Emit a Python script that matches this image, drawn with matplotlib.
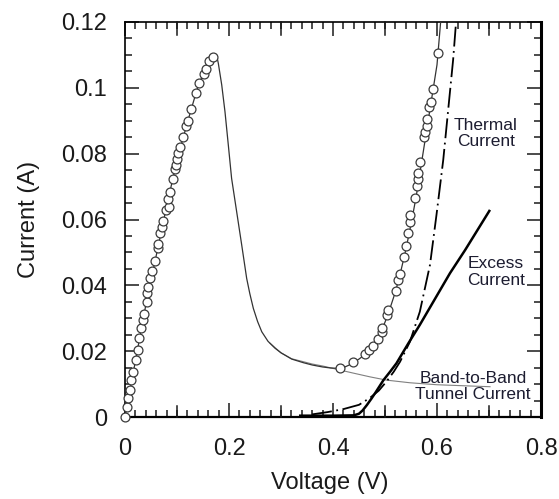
import matplotlib
matplotlib.use("Agg")
import matplotlib.pyplot as plt
from matplotlib.ticker import MultipleLocator

plt.rcParams['font.family'] = ['Liberation Sans', 'DejaVu Sans']

# Measured data (circles)
meas_v = [0.0, 0.0038, 0.0064, 0.0096, 0.0115, 0.016, 0.0205, 0.0244, 0.0269, 0.0308,
          0.0353, 0.0372, 0.0417, 0.0417, 0.0448, 0.0487, 0.0525, 0.0577, 0.0628, 0.064,
          0.0673, 0.0705, 0.0737, 0.0782, 0.0853, 0.0833, 0.0872, 0.0923, 0.0962, 0.0974,
          0.100, 0.1026, 0.106, 0.112, 0.117, 0.1205, 0.127, 0.136, 0.143, 0.151, 0.155,
          0.1615, 0.170,
          0.4135, 0.439, 0.4615, 0.470, 0.476, 0.487, 0.4936, 0.495, 0.503, 0.5065, 0.521,
          0.5256, 0.529, 0.5365, 0.540, 0.545, 0.548, 0.549, 0.5577, 0.561, 0.5628, 0.564,
          0.567, 0.5756, 0.5775, 0.580, 0.5815, 0.585, 0.588, 0.593, 0.6026]
meas_i = [0.0001, 0.0031, 0.0057, 0.0082, 0.0112, 0.0138, 0.0173, 0.0204, 0.0241, 0.0269,
          0.0295, 0.0312, 0.0348, 0.0376, 0.0396, 0.0421, 0.0444, 0.0474, 0.0512, 0.0525,
          0.0558, 0.0578, 0.0596, 0.0629, 0.0639, 0.0661, 0.0684, 0.0722, 0.0752, 0.0767,
          0.0783, 0.0801, 0.0819, 0.0852, 0.0884, 0.0899, 0.0935, 0.0983, 0.1016, 0.1041, 0.1056,
          0.1080, 0.1093,
          0.0148, 0.0168, 0.0190, 0.0204, 0.0216, 0.0237, 0.0257, 0.0271, 0.0310, 0.0325, 0.0383,
          0.0416, 0.0433, 0.0487, 0.0520, 0.0558, 0.0593, 0.0614, 0.0664, 0.0703, 0.0722, 0.0740,
          0.0776, 0.0850, 0.0867, 0.0884, 0.0905, 0.0941, 0.0958, 0.0995, 0.1107]

# Total simulated current (thin line)
total_v = [0.0, 0.02, 0.04, 0.06, 0.08, 0.10, 0.12, 0.14, 0.155, 0.165, 0.170, 0.1745,
           0.1775, 0.1795, 0.186, 0.1923, 0.1987, 0.205, 0.2147, 0.2244, 0.234, 0.240,
           0.2468, 0.255, 0.263, 0.275, 0.2885, 0.300, 0.3205, 0.343, 0.36, 0.38, 0.395,
           0.407, 0.42, 0.43, 0.44, 0.45, 0.46, 0.47, 0.48, 0.49, 0.50, 0.51, 0.52, 0.53,
           0.54, 0.55, 0.56, 0.57, 0.58, 0.59, 0.60, 0.607]
total_i = [0.0, 0.017, 0.034, 0.049, 0.064, 0.078, 0.0895, 0.1003, 0.1058, 0.1085, 0.1093,
           0.1096, 0.1089, 0.1074, 0.1009, 0.0927, 0.0826, 0.0725, 0.0624, 0.0523, 0.0421,
           0.0375, 0.0330, 0.0290, 0.0259, 0.0230, 0.0209, 0.0195, 0.0176, 0.0165, 0.0158,
           0.0152, 0.0149, 0.0148, 0.0150, 0.0157, 0.0166, 0.0176, 0.0188, 0.0203, 0.0224,
           0.0252, 0.0288, 0.0332, 0.0380, 0.0440, 0.0508, 0.0585, 0.0670, 0.0770, 0.0870,
           0.0970, 0.1070, 0.1200]

# Band-to-band tunnel current (thin gray line, valley onward)
btb_v = [0.279, 0.300, 0.3205, 0.343, 0.36, 0.38, 0.407, 0.44, 0.471, 0.503, 0.548,
         0.60, 0.65, 0.702]
btb_i = [0.0224, 0.0195, 0.0177, 0.0168, 0.0161, 0.0155, 0.0145, 0.0133, 0.0122, 0.0112,
         0.0104, 0.0098, 0.0095, 0.0092]

# Thermal current (dash-dot)
thermal_v = [0.36, 0.39, 0.42, 0.45, 0.471, 0.488, 0.503, 0.517, 0.529, 0.548, 0.567,
             0.5865, 0.599, 0.612, 0.631, 0.6365, 0.64]
thermal_i = [0.0008, 0.0015, 0.0024, 0.0037, 0.0058, 0.0080, 0.0108, 0.0138, 0.0168, 0.0229,
             0.032, 0.0462, 0.0614, 0.0781, 0.1085, 0.1197, 0.127]

# Excess current (thick solid)
excess_v = [0.337, 0.40, 0.44, 0.45, 0.457, 0.465, 0.474, 0.482, 0.497, 0.510, 0.522,
            0.545, 0.567, 0.625, 0.654, 0.7006]
excess_i = [0.0004, 0.0004, 0.0005, 0.0010, 0.0020, 0.0036, 0.0056, 0.0075, 0.0112, 0.0138,
            0.0163, 0.0224, 0.0280, 0.0437, 0.0507, 0.0626]

W, H = 559, 499
fig = plt.figure(figsize=(W / 100, H / 100), dpi=100)
ax = fig.add_axes([125 / W, 1 - 417 / H, 416 / W, 395 / H])

ax.plot(btb_v, btb_i, color='#808080', lw=0.8, zorder=2)
ax.plot(total_v, total_i, color='#333333', lw=0.9, zorder=3)
ax.plot(thermal_v, thermal_i, color='black', lw=1.3, dashes=(11, 2.5, 1, 2.5), zorder=3)
ax.plot(excess_v, excess_i, color='black', lw=1.8, zorder=3)
ax.plot(meas_v, meas_i, linestyle='none', marker='o', markersize=6.4,
        markerfacecolor='white', markeredgecolor='#3a3a3a', markeredgewidth=0.9,
        zorder=4, clip_on=False)

ax.set_xlim(0, 0.8)
ax.set_ylim(0, 0.12)
ax.set_xticks([0, 0.2, 0.4, 0.6, 0.8])
ax.set_xticklabels(['0', '0.2', '0.4', '0.6', '0.8'])
ax.xaxis.set_minor_locator(MultipleLocator(0.02))
ax.set_yticks([0, 0.02, 0.04, 0.06, 0.08, 0.1, 0.12])
ax.set_yticklabels(['0', '0.02', '0.04', '0.06', '0.08', '0.1', '0.12'])
ax.yaxis.set_minor_locator(MultipleLocator(0.005))

ax.tick_params(which='both', direction='in', top=True, right=True,
               labelsize=17, colors='#1a1a1a', width=1.1)
ax.tick_params(which='major', length=10)
ax.tick_params(which='minor', length=5)
ax.tick_params(axis='y', which='major', pad=13)
ax.tick_params(axis='x', which='major', pad=15)

# longer marks at odd tenths on x as in original
for v in [0.1, 0.3, 0.5, 0.7]:
    ax.plot([v, v], [0, 0.0033], color='#1a1a1a', lw=1.1, clip_on=False, zorder=5)
    ax.plot([v, v], [0.12, 0.12 - 0.0038], color='#1a1a1a', lw=1.1, clip_on=False, zorder=5)

for s in ['left', 'top']:
    ax.spines[s].set_linewidth(1.2)
ax.spines['bottom'].set_linewidth(1.6)
ax.spines['right'].set_linewidth(2.2)

ax.set_xlabel('Voltage (V)', fontsize=17, color='#1a1a1a', va='center')
ax.xaxis.set_label_coords(0.5 - 3 / 416, (417 - 483) / 395)
ax.set_ylabel('Current (A)', fontsize=17, color='#1a1a1a', va='center')
ax.yaxis.set_label_coords((29 - 125) / 416, 0.5)

ax.text(0.694, 0.0861, 'Thermal\nCurrent', fontsize=12.5, ha='center', va='center',
        color='#1c1c30', linespacing=1.15)
ax.text(0.7135, 0.0441, 'Excess\nCurrent', fontsize=12.5, ha='center', va='center',
        color='#1c1c30', linespacing=1.15)
ax.text(0.669, 0.00927, 'Band-to-Band\nTunnel Current', fontsize=12.5, ha='center',
        va='center', color='#1c1c30', linespacing=1.15)

fig.savefig('out.png', dpi=100)
